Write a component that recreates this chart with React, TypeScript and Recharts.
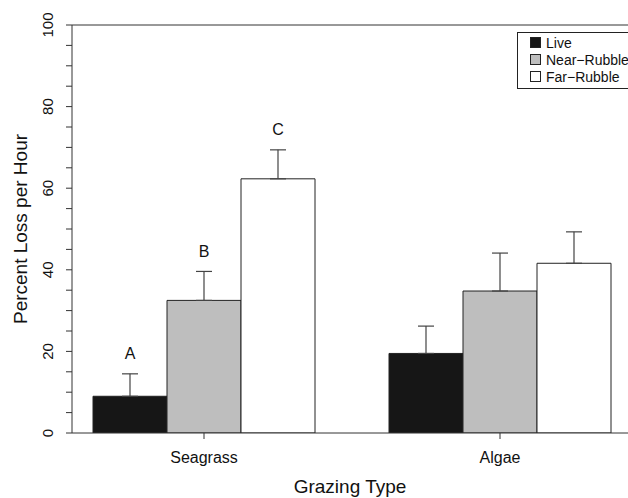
import React from "react";
import { BarChart, Bar, XAxis, YAxis, ErrorBar, LabelList, Legend, ReferenceLine, Label } from "recharts";

const categories = ["Seagrass", "Algae"];
const seriesNames = ["Live", "Near−Rubble", "Far−Rubble"];
const liveValues = [9.0, 19.5];
const nearValues = [32.5, 34.8];
const farValues = [62.3, 41.6];
const liveErrors = [5.5, 6.7];
const nearErrors = [7.1, 9.3];
const farErrors = [7.1, 7.7];
const liveLetters = ["A", ""];
const nearLetters = ["B", ""];
const farLetters = ["C", ""];
const yTicks = [0, 5, 10, 15, 20, 25, 30, 35, 40, 45, 50, 55, 60, 65, 70, 75, 80, 85, 90, 95, 100];
const yTickLabels = [0, 20, 40, 60, 80, 100];

const FONT = "'Liberation Sans', Arial, Helvetica, sans-serif";
const AXIS = "#333";

const data = categories.map((name, i) => ({
  name,
  live: liveValues[i],
  near: nearValues[i],
  far: farValues[i],
  liveErr: [0, liveErrors[i]],
  nearErr: [0, nearErrors[i]],
  farErr: [0, farErrors[i]],
}));

// letter sits ~5 units above the error bar cap
const letterLabel = (letters: string[], errors: number[]) => (props: any) => {
  const vb = props.viewBox ?? props;
  const idx = props.index;
  const letter = letters[idx];
  if (!letter) return null;
  const h = Math.abs(vb.height);
  const top = Math.min(vb.y, vb.y + vb.height);
  const value = Number(props.value);
  const pxPerUnit = h / value;
  const cy = top - (errors[idx] + 5) * pxPerUnit;
  return (
    <text x={vb.x + vb.width / 2} y={cy} dy="0.36em" textAnchor="middle" fontFamily={FONT} fontSize={16} fill="#111">
      {letter}
    </text>
  );
};

const XTick = (props: any) => {
  const { x, y, payload } = props;
  return (
    <text x={x} y={y} dy={22} textAnchor="middle" fontFamily={FONT} fontSize={16} fill="#111">
      {payload.value}
    </text>
  );
};

const YTick = (props: any) => {
  const { x, y, payload } = props;
  if (!yTickLabels.includes(payload.value)) return null;
  const tx = x - 11;
  return (
    <text x={tx} y={y} transform={`rotate(-90 ${tx} ${y})`} textAnchor="middle" fontFamily={FONT} fontSize={15} fill="#111">
      {payload.value}
    </text>
  );
};

const LegendBox = (props: any) => {
  const items = [...(props.payload ?? [])].sort(
    (a: any, b: any) => seriesNames.indexOf(a.value) - seriesNames.indexOf(b.value)
  );
  return (
    <div style={{ border: "1px solid #222", background: "#fff", padding: "1px 0 3px 0", fontFamily: FONT, fontSize: 14, color: "#111" }}>
      {items.map((p: any) => (
        <div key={p.value} style={{ display: "flex", alignItems: "center", height: 17 }}>
          <span style={{ display: "inline-block", width: 9, height: 9, marginLeft: 12, marginRight: 5, border: "1px solid #222", background: p.color }} />
          <span>{p.value}</span>
        </div>
      ))}
    </div>
  );
};

export default function App() {
  return (
    <div style={{ position: "absolute", left: 0, top: 0, width: 628, height: 498, background: "#fff" }}>
      <BarChart width={628} height={498} data={data} margin={{ top: 25, right: 0, bottom: 0, left: 0 }} barCategoryGap={37} barGap={0}>
        <XAxis
          dataKey="name"
          height={65}
          padding={{ left: -16, right: -20 }}
          stroke={AXIS}
          tickSize={6}
          tick={<XTick />}
          tickLine={{ stroke: AXIS }}
        >
          <Label
            content={(p: any) => {
              const vb = p.viewBox;
              return (
                <text x={vb.x + vb.width / 2} y={vb.y + 60} textAnchor="middle" fontFamily={FONT} fontSize={19} fill="#111">
                  Grazing Type
                </text>
              );
            }}
          />
        </XAxis>
        <YAxis
          width={72}
          domain={[0, 100]}
          ticks={yTicks}
          interval={0}
          allowDataOverflow
          stroke={AXIS}
          tickSize={6}
          tick={<YTick />}
          tickLine={{ stroke: AXIS }}
        >
          <Label
            content={(p: any) => {
              const vb = p.viewBox;
              const cx = 27;
              const cy = vb.y + vb.height / 2;
              return (
                <text x={cx} y={cy} transform={`rotate(-90 ${cx} ${cy})`} textAnchor="middle" fontFamily={FONT} fontSize={19} fill="#111">
                  Percent Loss per Hour
                </text>
              );
            }}
          />
        </YAxis>
        <ReferenceLine y={100} stroke={AXIS} />
        <Legend
          layout="vertical"
          align="center"
          verticalAlign="middle"
          content={<LegendBox />}
          wrapperStyle={{ position: "absolute", left: 517, top: 32, width: 113, height: 56 }}
        />
        <Bar dataKey="live" name={seriesNames[0]} fill="#161616" stroke="#222" isAnimationActive={false}>
          <ErrorBar dataKey="liveErr" width={8} stroke="#444" strokeWidth={1.2} />
          <LabelList dataKey="live" content={letterLabel(liveLetters, liveErrors)} />
        </Bar>
        <Bar dataKey="near" name={seriesNames[1]} fill="#bebebe" stroke="#222" isAnimationActive={false}>
          <ErrorBar dataKey="nearErr" width={8} stroke="#444" strokeWidth={1.2} />
          <LabelList dataKey="near" content={letterLabel(nearLetters, nearErrors)} />
        </Bar>
        <Bar dataKey="far" name={seriesNames[2]} fill="#ffffff" stroke="#222" isAnimationActive={false}>
          <ErrorBar dataKey="farErr" width={8} stroke="#444" strokeWidth={1.2} />
          <LabelList dataKey="far" content={letterLabel(farLetters, farErrors)} />
        </Bar>
      </BarChart>
    </div>
  );
}
